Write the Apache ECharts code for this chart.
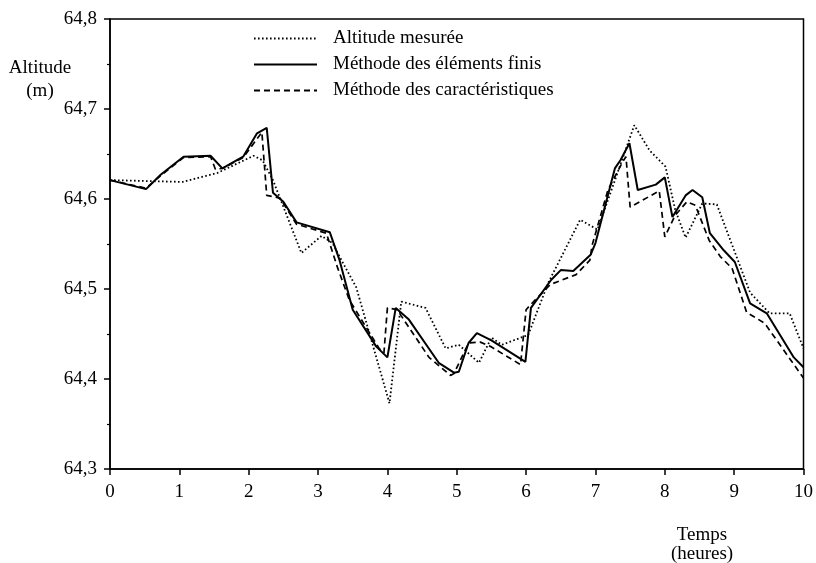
<!DOCTYPE html>
<html>
<head>
<meta charset="utf-8">
<script src="https://cdn.jsdelivr.net/npm/echarts@6/dist/echarts.min.js"></script>
<style>
html,body{margin:0;padding:0;background:#fff;}
#chart{width:816px;height:563px;}
</style>
</head>
<body>
<div id="chart"></div>
<script>
// ---- Data ----
const seriesNames = ['Altitude mesurée', 'Méthode des éléments finis', 'Méthode des caractéristiques'];

const measuredT = [0, 0.5, 1.05, 1.55, 2.07, 2.2, 2.35, 2.76, 3.05, 3.21, 3.31, 3.55, 4.03, 4.2, 4.55, 4.84, 5.03, 5.32, 5.5, 5.65, 6.03, 6.32, 6.78, 7.03, 7.56, 7.78, 8.01, 8.15, 8.3, 8.54, 8.75, 9.23, 9.51, 9.8, 10];
const measuredV = [64.621, 64.620, 64.619, 64.629, 64.648, 64.643, 64.621, 64.540, 64.559, 64.551, 64.536, 64.502, 64.373, 64.486, 64.479, 64.434, 64.438, 64.418, 64.446, 64.438, 64.449, 64.507, 64.577, 64.566, 64.682, 64.654, 64.636, 64.588, 64.557, 64.595, 64.594, 64.496, 64.473, 64.473, 64.434];

const femT = [0, 0.52, 0.73, 1.06, 1.45, 1.62, 1.92, 2.12, 2.26, 2.35, 2.5, 2.69, 3.17, 3.31, 3.5, 3.84, 4.0, 4.12, 4.31, 4.74, 4.96, 5.03, 5.17, 5.29, 5.5, 5.99, 6.07, 6.36, 6.5, 6.68, 6.93, 7.0, 7.28, 7.36, 7.49, 7.61, 7.87, 8.0, 8.11, 8.3, 8.4, 8.54, 8.65, 8.85, 9.01, 9.23, 9.47, 9.86, 10];
const femV = [64.621, 64.611, 64.627, 64.647, 64.648, 64.634, 64.647, 64.673, 64.679, 64.607, 64.597, 64.574, 64.563, 64.532, 64.477, 64.436, 64.424, 64.479, 64.466, 64.418, 64.407, 64.408, 64.440, 64.451, 64.443, 64.419, 64.479, 64.510, 64.521, 64.520, 64.538, 64.551, 64.634, 64.643, 64.662, 64.610, 64.616, 64.624, 64.580, 64.604, 64.610, 64.602, 64.562, 64.543, 64.530, 64.484, 64.473, 64.424, 64.413];

const charT = [0, 0.52, 0.73, 1.06, 1.45, 1.52, 1.62, 1.92, 2.19, 2.26, 2.45, 2.69, 3.12, 3.28, 3.45, 3.88, 3.95, 4.0, 4.14, 4.6, 4.91, 4.96, 5.17, 5.34, 5.49, 5.92, 6.0, 6.07, 6.35, 6.72, 6.92, 6.95, 7.18, 7.39, 7.44, 7.5, 7.92, 8.0, 8.15, 8.32, 8.44, 8.64, 8.8, 8.97, 9.18, 9.44, 10];
const charV = [64.621, 64.612, 64.626, 64.646, 64.647, 64.633, 64.634, 64.646, 64.674, 64.604, 64.601, 64.572, 64.562, 64.524, 64.488, 64.434, 64.429, 64.479, 64.477, 64.424, 64.404, 64.406, 64.440, 64.441, 64.436, 64.416, 64.477, 64.483, 64.505, 64.516, 64.532, 64.548, 64.610, 64.641, 64.647, 64.591, 64.609, 64.558, 64.582, 64.597, 64.593, 64.554, 64.536, 64.523, 64.474, 64.462, 64.401];

const yTickLabels = ['64,3', '64,4', '64,5', '64,6', '64,7', '64,8'];
const xTickLabels = ['0','1','2','3','4','5','6','7','8','9','10'];

const yAxisTitle = ['Altitude', '(m)'];
const xAxisTitle = ['Temps', '(heures)'];

// ---- Build ----
function pairs(t, v) { return t.map((x, i) => [x, v[i]]); }
const FONT = '"Liberation Serif", "Times New Roman", serif';

const chart = echarts.init(document.getElementById('chart'), null, {renderer: 'canvas'});
chart.setOption({
  animation: false,
  backgroundColor: '#ffffff',
  grid: {
    left: 110, right: 9, top: 19, bottom: 94,
    show: true, borderColor: '#000', borderWidth: 1.5, backgroundColor: 'transparent'
  },
  legend: {
    orient: 'vertical',
    left: 248, top: 24,
    itemWidth: 63, itemHeight: 14, itemGap: 7,
    data: seriesNames,
    itemStyle: {opacity: 0},
    textStyle: {fontFamily: FONT, fontSize: 19, color: '#000', lineHeight: 19, padding: [0, 0, 0, 11]},
    inactiveColor: '#000'
  },
  xAxis: {
    type: 'value', min: 0, max: 10, interval: 1,
    axisLine: {show: true, lineStyle: {color: '#000', width: 1.5}},
    axisTick: {show: true, length: 6, lineStyle: {color: '#000', width: 1.5}},
    axisLabel: {
      margin: 14, color: '#000', fontFamily: FONT, fontSize: 19,
      formatter: (v) => xTickLabels[Math.round(v)]
    },
    splitLine: {show: false}
  },
  yAxis: {
    type: 'value', min: 64.3, max: 64.8, interval: 0.1,
    axisLine: {show: true, lineStyle: {color: '#000', width: 1.5}},
    axisTick: {show: true, length: 6, lineStyle: {color: '#000', width: 1.5}},
    minorTick: {show: true, splitNumber: 2, length: 3, lineStyle: {color: '#000', width: 1.2}},
    axisLabel: {
      margin: 13, color: '#000', fontFamily: FONT, fontSize: 19,
      formatter: (v) => yTickLabels[Math.round((v - 64.3) * 10)]
    },
    splitLine: {show: false}
  },
  graphic: [
    {type: 'text', position: [40, 68], style: {text: yAxisTitle[0], font: '19px ' + FONT, fill: '#000', align: 'center', verticalAlign: 'middle'}},
    {type: 'text', position: [40, 91], style: {text: yAxisTitle[1], font: '19px ' + FONT, fill: '#000', align: 'center', verticalAlign: 'middle'}},
    {type: 'text', position: [702, 535], style: {text: xAxisTitle[0], font: '19px ' + FONT, fill: '#000', align: 'center', verticalAlign: 'middle'}},
    {type: 'text', position: [702, 554], style: {text: xAxisTitle[1], font: '19px ' + FONT, fill: '#000', align: 'center', verticalAlign: 'middle'}}
  ],
  series: [
    {
      name: seriesNames[0], type: 'line', symbol: 'none', data: pairs(measuredT, measuredV),
      lineStyle: {color: '#000', width: 1.8, type: [1.6, 2.4]},
      itemStyle: {color: '#000'}
    },
    {
      name: seriesNames[1], type: 'line', symbol: 'none', data: pairs(femT, femV),
      lineStyle: {color: '#000', width: 2, type: 'solid'},
      itemStyle: {color: '#000'}
    },
    {
      name: seriesNames[2], type: 'line', symbol: 'none', data: pairs(charT, charV),
      lineStyle: {color: '#000', width: 1.7, type: [6, 4]},
      itemStyle: {color: '#000'}
    }
  ]
});
</script>
</body>
</html>
